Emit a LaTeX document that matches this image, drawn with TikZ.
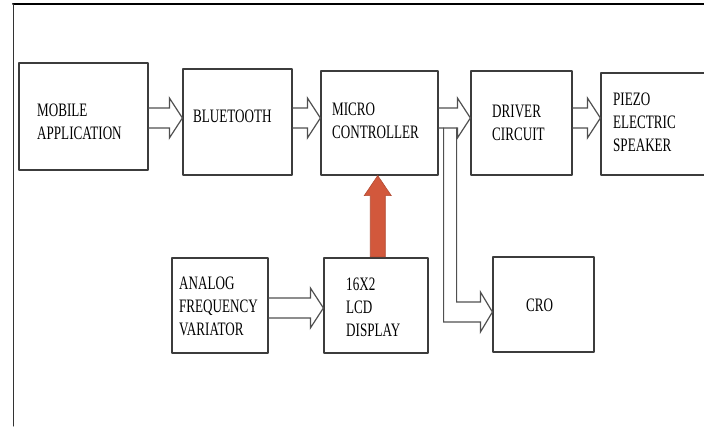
\documentclass[tikz,border=0pt]{standalone}
\usepackage{fontspec}
\setmainfont{Liberation Serif}[FakeStretch=0.69]
\usetikzlibrary{calc}
\definecolor{BoxGray}{RGB}{60,60,60}
\definecolor{ArrGray}{RGB}{80,80,80}
\definecolor{LcdRed}{RGB}{210,88,60}

\begin{document}
\begin{tikzpicture}[line cap=round,line join=round,x=1pt,y=-1pt,
  blk/.style={draw=BoxGray,line width=1.2pt,inner sep=0pt},
  lbl/.style={inner sep=0pt,align=left,text=black,font=\fontsize{19}{23}\selectfont},
  hollow/.style={draw=ArrGray,line width=1.2pt,line join=miter},
  redblk/.style={fill=LcdRed,draw=LcdRed!85!black,line width=.6pt,line join=miter}]
\useasboundingbox (0,0) rectangle (704,426);
\clip (0,0) rectangle (704,426);
% page frame
\draw [line width=2pt,color=black] (13,4) -- (704,4);
\draw [line width=1pt,color=black!80] (13,4) -- (13,426);
% blocks
\node[blk,minimum width=129pt,minimum height=107pt] (mob) at (83.5,116.5) {};
\node[blk,minimum width=109pt,minimum height=106pt] (blue) at (237.5,122) {};
\node[blk,minimum width=117pt,minimum height=104pt] (micro) at (379.5,123) {};
\node[blk,minimum width=101pt,minimum height=104pt] (driver) at (521.5,123) {};
\node[blk,minimum width=111pt,minimum height=102pt] (piezo) at (656.5,124) {};
\node[blk,minimum width=96pt,minimum height=95pt] (analog) at (220,305.5) {};
\node[blk,minimum width=104pt,minimum height=95pt] (lcd) at (376,305.5) {};
\node[blk,minimum width=101pt,minimum height=95pt] (cro) at (543.5,304.5) {};
% labels
\node[lbl,anchor=west] (mobtxt) at (37,122) {MOBILE\\APPLICATION};
\node[lbl,anchor=west] (bluetxt) at (193,116) {BLUETOOTH};
\node[lbl,anchor=west] (microtxt) at (332,120.5) {MICRO\\CONTROLLER};
\node[lbl,anchor=west] (drivertxt) at (492,123) {DRIVER\\CIRCUIT};
\node[lbl,anchor=west] (piezotxt) at (613,122) {PIEZO\\ELECTRIC\\SPEAKER};
\node[lbl,anchor=west] (analogtxt) at (179,306.5) {ANALOG\\FREQUENCY\\VARIATOR};
\node[lbl,anchor=west] (lcdtxt) at (346,307) {16X2\\LCD\\DISPLAY};
\node[lbl] (crotxt) at (539.5,305) {CRO};
% hollow block arrows
\foreach \src/\dst/\ypos in {mob/blue/118,blue/micro/118,micro/driver/118,driver/piezo/118,analog/lcd/308}{
  \coordinate (tip) at (\dst.west |- 0,\ypos);
  \draw[hollow] ($(\src.east |- 0,\ypos)+(0,-10)$) -- ($(tip)+(-13,-10)$) -- ++(0,-10) -- (tip)
    -- ++(-13,20) -- ++(0,-10) -- ($(\src.east |- 0,\ypos)+(0,10)$);
}
\coordinate (ltip) at ($(cro.west)+(0,7.5)$);
\draw[hollow] ($(micro.east)+(5,5)$) |- ($(ltip)+(-12,10)$) -- ++(0,10) -- (ltip)
  -- ++(-12,-20) -- ++(0,10) -| ($(micro.east)+(18,5)$);
% red arrow from the display up to the controller
\path (lcd.north) -- (micro.south) coordinate[pos=.5] (rmid);
\coordinate (rtip) at (rmid |- micro.south);
\coordinate (rbase) at (rmid |- lcd.north);
\filldraw[redblk] ($(rbase)+(-7.5,-0.6)$) -- ($(rtip)+(-7.5,20)$) -- ++(-6,0) -- (rtip)
  -- ++(13.5,20) -- ++(-6,0) -- ($(rbase)+(7.5,-0.6)$) -- cycle;
\end{tikzpicture}
\end{document}
